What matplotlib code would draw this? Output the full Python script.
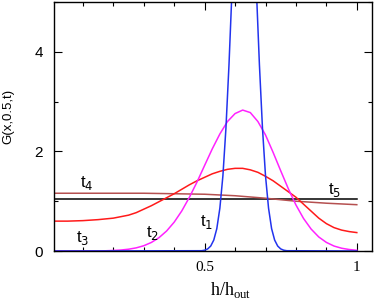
import numpy as np
import matplotlib.pyplot as plt
from matplotlib.ticker import MultipleLocator, FixedLocator

# values
x_t1 = [0.0, 0.49, 0.50, 0.51, 0.52, 0.53, 0.54, 0.55, 0.56, 0.57, 0.58, 0.59, 0.60,
        0.61, 0.62, 0.63, 0.64, 0.65, 0.66, 0.67, 0.68, 0.69, 0.70, 0.71, 0.72,
        0.73, 0.74, 0.75, 0.76, 0.77, 1.0]
g_t1 = [0.0, 0.006, 0.016, 0.042, 0.10, 0.22, 0.45, 0.86, 1.51, 2.47, 3.74, 5.25, 6.83,
        8.25, 9.24, 9.6, 9.24, 8.25, 6.83, 5.25, 3.74, 2.47, 1.51, 0.86, 0.45,
        0.22, 0.10, 0.042, 0.016, 0.006, 0.0]

x_t2 = [0.0, 0.1, 0.15, 0.175, 0.2, 0.225, 0.25, 0.275, 0.3, 0.325, 0.35, 0.375, 0.4,
        0.425, 0.45, 0.475, 0.5, 0.525, 0.55, 0.575, 0.6, 0.625, 0.65, 0.675, 0.7,
        0.725, 0.75, 0.775, 0.8, 0.825, 0.85, 0.875, 0.9, 0.925, 0.95, 0.975, 1.0]
g_t2 = [0.0, 0.001, 0.003, 0.005, 0.011, 0.020, 0.036, 0.063, 0.106, 0.172, 0.268, 0.402, 0.58,
        0.806, 1.08, 1.386, 1.72, 2.05, 2.35, 2.60, 2.76, 2.83, 2.78, 2.60, 2.33,
        1.98, 1.61, 1.25, 0.925, 0.653, 0.44, 0.282, 0.173, 0.10, 0.056, 0.03, 0.015]

x_t3 = [0.0, 0.05, 0.1, 0.15, 0.2, 0.225, 0.25, 0.275, 0.3, 0.325, 0.35, 0.375, 0.4,
        0.425, 0.45, 0.475, 0.5, 0.525, 0.55, 0.575, 0.6, 0.625, 0.65, 0.675, 0.7,
        0.725, 0.75, 0.775, 0.8, 0.825, 0.85, 0.875, 0.9, 0.925, 0.95, 0.975, 1.0]
g_t3 = [0.60, 0.60, 0.61, 0.63, 0.66, 0.69, 0.72, 0.77, 0.84, 0.91, 0.99, 1.07, 1.15,
        1.24, 1.33, 1.41, 1.48, 1.55, 1.60, 1.64, 1.66, 1.66, 1.63, 1.58, 1.50,
        1.41, 1.30, 1.19, 1.08, 0.94, 0.80, 0.66, 0.55, 0.47, 0.42, 0.39, 0.37]

x_t4 = [0.0, 0.1, 0.2, 0.3, 0.4, 0.5, 0.6, 0.7, 0.8, 0.9, 1.0]
g_t4 = [1.16, 1.16, 1.16, 1.16, 1.15, 1.14, 1.11, 1.06, 1.00, 0.96, 0.93]

x_t5 = [0.0, 1.0]
g_t5 = [1.05, 1.05]

labels = ['t$_1$', 't$_2$', 't$_3$', 't$_4$', 't$_5$']
label_x = [0.505, 0.328, 0.10, 0.111, 0.928]
label_y = [0.58, 0.36, 0.26, 1.36, 1.22]

fig = plt.figure(figsize=(3.74, 3.0), dpi=100)
ax = fig.add_axes([0.1444, 0.1633, 0.8503, 0.83])

ax.plot(x_t5, g_t5, color='black', lw=1.1)
ax.plot(x_t4, g_t4, color='#b55050', lw=1.1)
ax.plot(x_t3, g_t3, color='#ff1a1a', lw=1.1)
ax.plot(x_t2, g_t2, color='#ff22ff', lw=1.1)
ax.plot(x_t1, g_t1, color='#2233ee', lw=1.1)

for s, lx, ly in zip(labels, label_x, label_y):
    ax.text(lx, ly, s, fontsize=12, family='Liberation Sans',
            ha='center', va='center')

ax.set_xlim(0.005, 1.05)
ax.set_ylim(0, 5)
ax.xaxis.set_major_locator(FixedLocator([0.5, 1.0]))
ax.xaxis.set_minor_locator(MultipleLocator(0.1))
ax.yaxis.set_major_locator(FixedLocator([0, 2, 4]))
ax.yaxis.set_minor_locator(MultipleLocator(1))
ax.set_xticklabels(['0.5', '1'], family='Liberation Serif', fontsize=11)
ax.set_yticklabels(['0', '2', '4'], family='Liberation Sans', fontsize=11)
ax.tick_params(which='both', direction='in', top=True, right=True, width=0.8)
ax.tick_params(which='major', length=5.5)
ax.tick_params(axis='x', which='major', pad=7)
ax.tick_params(axis='y', which='major', pad=8)
ax.tick_params(which='minor', length=3)
for sp in ax.spines.values():
    sp.set_linewidth(1.0)

ax.set_xlabel('h/h$_{\\mathregular{out}}$', family='Liberation Serif', fontsize=13)
ax.set_ylabel('G(x,0.5,t)', family='Liberation Sans', fontsize=9.5)
ax.xaxis.set_label_coords(0.555, -0.115)
ax.yaxis.set_label_coords(-0.125, 0.54)

fig.savefig('out.png', dpi=100)
